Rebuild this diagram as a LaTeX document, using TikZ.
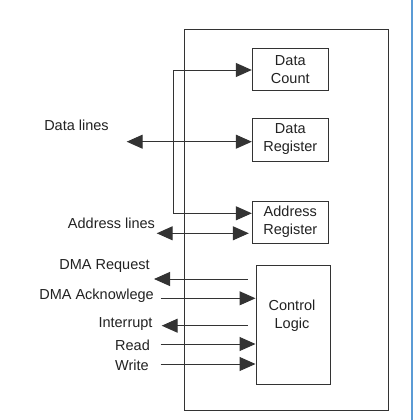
\documentclass[tikz,border=0pt]{standalone}
\usepackage{fontspec}
\setmainfont{Liberation Sans}
\usetikzlibrary{arrows.meta}
\definecolor{ln}{HTML}{333333}
\definecolor{txt}{HTML}{222222}
\definecolor{bl}{HTML}{5B9BD5}
\begin{document}
\begin{tikzpicture}[x=1pt,y=-1pt,
  font=\fontsize{14.5}{18}\selectfont,
  lbl/.style={text=txt, inner sep=0pt},
  box/.style={draw=ln, line width=1pt, align=center, inner sep=0pt, text=txt},
  tip/.tip={Triangle[length=16pt,width=14pt]},
  conn/.style={draw=ln, line width=1pt},
  arr/.style={conn, -tip},
  darr/.style={conn, tip-tip}]
\useasboundingbox (0,0) rectangle (413,420);
\fill[white] (0,0) rectangle (413,420);
\draw[bl, line width=1.5pt] (412,0) -- (412,420);
% outer box
\node[box, minimum width=203.8, minimum height=381.4] (outer) at (286.4,220) {};
% inner boxes
\node[box, minimum width=76, minimum height=42.4] (dc) at (290.3,69.5) {Data\\Count};
\node[box, minimum width=76, minimum height=43] (dr) at (290.3,139.5) {Data\\Register};
\node[box, minimum width=76, minimum height=42] (ar) at (290.3,222) {Address\\Register};
\node[box, minimum width=74, minimum height=119] (cl) at (293,324.5) {};
\node[lbl, align=center] (cltext) at (292,316.2) {Control\\Logic};
% labels
\node[lbl] (tdl) at (76.5,125) {Data lines};
\node[lbl] (tal) at (111.5,223) {Address lines};
\node[lbl] (trq) at (104.5,266) {DMA Request};
\node[lbl] (tak) at (96.5,296) {DMA Acknowlege};
\node[lbl] (tint) at (125.5,324) {Interrupt};
\node[lbl] (trd) at (132.5,345) {Read};
\node[lbl] (twr) at (132,365.5) {Write};
% coordinates
\coordinate (vtop) at (173.3,70);
\coordinate (vbot) at (173.3,213.3);
\coordinate (dlL) at (126.7,141.7);
\coordinate (alL) at (156.7,233.3);
\coordinate (rqL) at (154,279);
\coordinate (akL) at (160.7,298.3);
\coordinate (intL) at (161.7,325.7);
\coordinate (rdL) at (160.5,344);
\coordinate (wrL) at (160.5,364);
% connectors
\draw[conn] (vtop) -- (vbot);
\draw[arr] (vtop) -- (dc.west |- vtop);
\draw[arr] (vbot) -- (ar.west |- vbot);
\draw[darr] (dlL) -- (dr.west |- dlL);
\draw[darr] (alL) -- ([xshift=-3pt]ar.west |- alL);
\draw[arr] ([xshift=-8pt]cl.west |- rqL) -- (rqL);
\draw[arr] (akL) -- (cl.west |- akL);
\draw[arr] ([xshift=-8pt]cl.west |- intL) -- (intL);
\draw[arr] (rdL) -- (cl.west |- rdL);
\draw[arr] (wrL) -- (cl.west |- wrL);
\end{tikzpicture}
\end{document}
